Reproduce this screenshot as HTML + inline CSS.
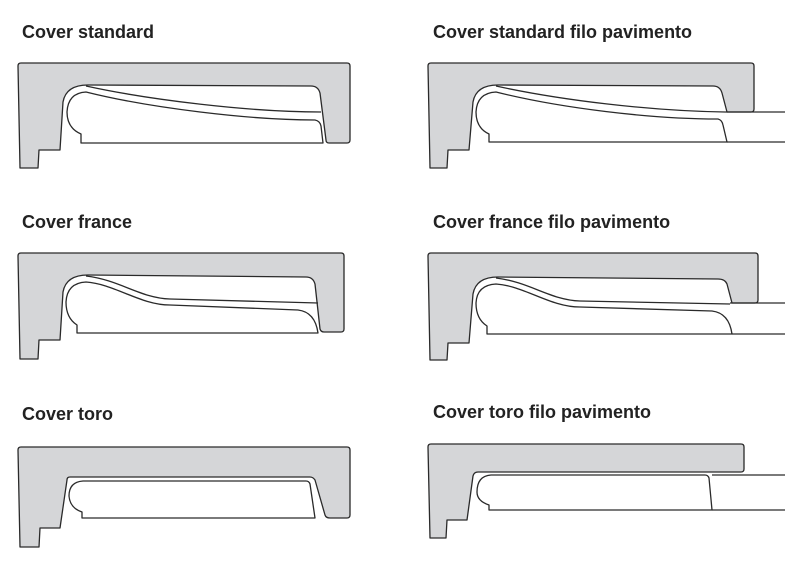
<!DOCTYPE html>
<html><head><meta charset="utf-8"><style>
html,body{margin:0;padding:0;background:#fff;}
svg{display:block;}
text{font-family:"Liberation Sans",sans-serif;font-weight:bold;font-size:18px;fill:#222;}
.g{fill:#d5d6d8;stroke:#2a2a2a;stroke-width:1.3;stroke-linejoin:round;}
.w{fill:#fff;stroke:#2a2a2a;stroke-width:1.3;stroke-linejoin:round;}
.l{fill:none;stroke:#2a2a2a;stroke-width:1.3;}
</style></head><body>
<svg width="800" height="570" viewBox="0 0 800 570" xmlns="http://www.w3.org/2000/svg">
<text x="22" y="38">Cover standard</text>
<text x="433" y="38">Cover standard filo pavimento</text>
<text x="22" y="228">Cover france</text>
<text x="433" y="228">Cover france filo pavimento</text>
<text x="22" y="420">Cover toro</text>
<text x="433" y="418">Cover toro filo pavimento</text>

<!-- Panel 1 -->
<path class="g" d="M20,168 L18,66 Q18,63 21,63 L347,63 Q350,63 350,66 L350,140 Q350,143 347,143 L329,143 Q326,143 326,140 L320,93 Q318,86 311,86 L88,85 Q66,85 63,102 L60,150 L39,150 L38,168 Z"/>
<path class="w" d="M81,143 L81,134 Q67,128 67,112 Q68,93 86,92 C150,108 250,120 315,120 Q320,121 321,126 L323,143 Z"/>
<path class="l" d="M86,86 C150,100 250,112 321,112"/>

<!-- Panel 4 -->
<path class="g" d="M430,168 L428,66 Q428,63 431,63 L751,63 Q754,63 754,66 L754,109 Q754,112 751,112 L727,112 L722,93 Q720,86 713,86 L498,85 Q476,85 473,102 L469,150 L448,150 L447,168 Z"/>
<path class="w" d="M489,142 L489,134 Q476,128 476,112 Q477,93 496,92 C560,108 650,119 718,119 Q722,120 723,125 L727,142 Z"/>
<path class="l" d="M496,86 C560,100 650,111 725,112 M725,112 L785,112 M727,142 L785,142"/>

<!-- Panel 2 -->
<path class="g" d="M20,359 L18,256 Q18,253 21,253 L341,253 Q344,253 344,256 L344,329 Q344,332 341,332 L324,332 Q321,332 320,329 L315,284 Q313,277 306,277 L88,275 Q66,275 63,292 L60,340 L39,340 L38,359 Z"/>
<path class="w" d="M77,333 L77,325 Q66,318 66,302 Q67,283 86,282 C115,284 140,305 170,305 L298,310 Q315,312 318,333 Z"/>
<path class="l" d="M86,276 C120,280 140,298 170,299 L318,303"/>

<!-- Panel 5 -->
<path class="g" d="M430,360 L428,256 Q428,253 431,253 L755,253 Q758,253 758,256 L758,300 Q758,303 755,303 L732,303 L727,284 Q725,279 718,279 L498,277 Q476,277 473,294 L469,343 L448,343 L447,360 Z"/>
<path class="w" d="M487,334 L487,326 Q476,319 476,303 Q477,285 496,284 C525,286 550,307 580,307 L712,311 Q729,313 732,334 Z"/>
<path class="l" d="M496,278 C530,282 550,300 580,301 L730,304 M730,303 L785,303 M732,334 L785,334"/>

<!-- Panel 3 -->
<path class="g" d="M20,547 L18,450 Q18,447 21,447 L347,447 Q350,447 350,450 L350,515 Q350,518 347,518 L330,518 Q326,518 325,515 L315,480 Q313,477 310,477 L70,477 Q67,477 67,480 L60,528 L40,528 L39,547 Z"/>
<path class="w" d="M82,518 L82,512 Q70,508 69,496 Q69,482 83,481 L306,481 Q309,481 310,484 L315,518 Z"/>

<!-- Panel 6 -->
<path class="g" d="M430,538 L428,447 Q428,444 431,444 L741,444 Q744,444 744,447 L744,469 Q744,472 741,472 L478,472 Q474,472 473,476 L467,520 L447,520 L446,538 Z"/>
<path class="w" d="M489,510 L489,505 Q477,501 477,492 Q477,476 491,475 L705,475 Q708,475 709,478 L712,510 Z"/>
<path class="l" d="M712,475 L785,475 M712,510 L785,510"/>
</svg>
</body></html>
